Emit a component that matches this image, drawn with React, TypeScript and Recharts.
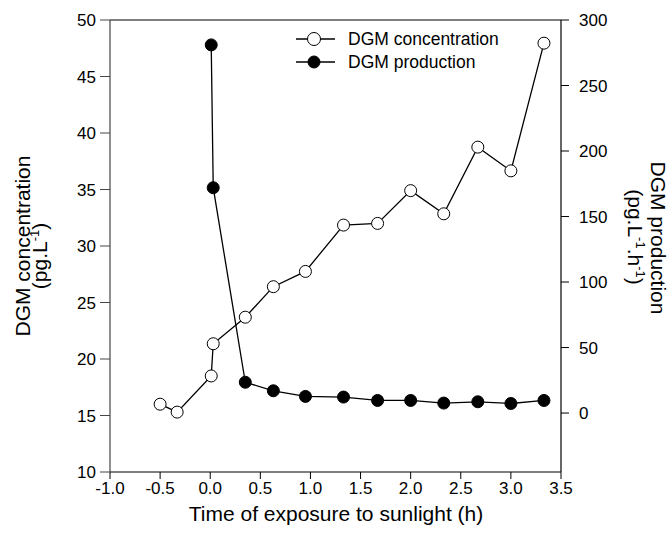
import React from "react";
import {
  LineChart,
  Line,
  XAxis,
  YAxis,
  ReferenceLine,
} from "recharts";

// Time of exposure (h) and DGM concentration (pg.L-1)
const concTime = [-0.5, -0.33, 0.01, 0.03, 0.35, 0.63, 0.95, 1.33, 1.67, 2.0, 2.33, 2.67, 3.0, 3.33];
const concValues = [16.0, 15.3, 18.5, 21.35, 23.7, 26.4, 27.75, 31.85, 32.0, 34.9, 32.85, 38.75, 36.65, 47.95];

// Time of exposure (h) and DGM production (pg.L-1.h-1)
const prodTime = [0.01, 0.03, 0.35, 0.63, 0.95, 1.33, 1.67, 2.0, 2.33, 2.67, 3.0, 3.33];
const prodValues = [281, 172, 23.5, 17, 12.7, 12.2, 9.6, 9.6, 7.6, 8.6, 7.3, 9.6];

const xTicks = [-1, -0.5, 0, 0.5, 1, 1.5, 2, 2.5, 3, 3.5];
const leftTicks = [10, 15, 20, 25, 30, 35, 40, 45, 50];
const rightTicks = [0, 50, 100, 150, 200, 250, 300];

const concData = concTime.map((t, i) => ({ t, conc: concValues[i] }));
const prodData = prodTime.map((t, i) => ({ t, prod: prodValues[i] }));

const FONT = "'Liberation Sans', Arial, Helvetica, sans-serif";
const W = 672;
const H = 535;

const tickStyle = { fill: "#000", fontSize: 17, fontFamily: FONT };

function Overlay() {
  return (
    <svg
      width={W}
      height={H}
      style={{ position: "absolute", left: 0, top: 0, pointerEvents: "none" }}
      fontFamily={FONT}
    >
      {/* x-axis title */}
      <text x={336} y={521} textAnchor="middle" fontSize={21} fill="#000">
        Time of exposure to sunlight (h)
      </text>

      {/* left axis title */}
      <text x={30} y={246} transform="rotate(-90, 30, 246)" textAnchor="middle" fontSize={21} fill="#000">
        DGM concentration
      </text>
      <text x={47} y={256} transform="rotate(-90, 47, 256)" textAnchor="middle" fontSize={21} fill="#000">
        (pg.L
        <tspan dy={-8} fontSize={13}>-1</tspan>
        <tspan dy={8}>)</tspan>
      </text>

      {/* right axis title */}
      <text x={651} y={238} transform="rotate(90, 651, 238)" textAnchor="middle" fontSize={21} fill="#000">
        DGM production
      </text>
      <text x={628} y={237} transform="rotate(90, 628, 237)" textAnchor="middle" fontSize={21} fill="#000">
        (pg.L
        <tspan dy={-8} fontSize={13}>-1</tspan>
        <tspan dy={8}>.h</tspan>
        <tspan dy={-8} fontSize={13}>-1</tspan>
        <tspan dy={8}>)</tspan>
      </text>

      {/* legend */}
      <g>
        <line x1={296} y1={39} x2={335} y2={39} stroke="#000" strokeWidth={1.3} />
        <circle cx={314} cy={39} r={6.5} fill="#fff" stroke="#000" strokeWidth={1} />
        <text x={348} y={39} dominantBaseline="central" fontSize={17.5} fill="#000">
          DGM concentration
        </text>
        <line x1={296} y1={62} x2={335} y2={62} stroke="#000" strokeWidth={1.3} />
        <circle cx={314} cy={62} r={6} fill="#000" stroke="#000" strokeWidth={1} />
        <text x={348} y={62} dominantBaseline="central" fontSize={17.5} fill="#000">
          DGM production
        </text>
      </g>
    </svg>
  );
}

export default function App() {
  return (
    <div style={{ position: "absolute", left: 0, top: 0, width: W, height: H, background: "#fff" }}>
      <LineChart
        width={W}
        height={H}
        margin={{ top: 20, right: 51, bottom: 3, left: 50 }}
      >
        <XAxis
          dataKey="t"
          type="number"
          domain={[-1, 3.5]}
          ticks={xTicks}
          allowDataOverflow
          tickFormatter={(v: number) => v.toFixed(1)}
          tick={tickStyle}
          tickSize={7}
          tickMargin={3}
          height={60}
          stroke="#000"
          axisLine={{ stroke: "#000", strokeWidth: 1.2 }}
          tickLine={{ stroke: "#000" }}
        />
        <YAxis
          yAxisId="left"
          orientation="left"
          type="number"
          domain={[10, 50]}
          ticks={leftTicks}
          allowDataOverflow
          tick={tickStyle}
          tickSize={10}
          tickMargin={4}
          width={60}
          axisLine={{ stroke: "#444", strokeWidth: 1.2 }}
          tickLine={{ stroke: "#444" }}
        />
        <YAxis
          yAxisId="right"
          orientation="right"
          type="number"
          domain={[-45, 300]}
          ticks={rightTicks}
          allowDataOverflow
          tick={tickStyle}
          tickSize={8}
          tickMargin={10}
          width={60}
          axisLine={{ stroke: "#000", strokeWidth: 1.2 }}
          tickLine={{ stroke: "#000" }}
        />
        <ReferenceLine yAxisId="left" y={50} stroke="#000" strokeWidth={1.2} />
        <Line
          yAxisId="right"
          data={prodData}
          dataKey="prod"
          type="linear"
          stroke="#000"
          strokeWidth={1.3}
          dot={{ r: 6, fill: "#000", stroke: "#000", strokeWidth: 1 }}
          activeDot={false}
          isAnimationActive={false}
        />
        <Line
          yAxisId="left"
          data={concData}
          dataKey="conc"
          type="linear"
          stroke="#000"
          strokeWidth={1.3}
          dot={{ r: 6, fill: "#fff", stroke: "#000", strokeWidth: 1 }}
          activeDot={false}
          isAnimationActive={false}
        />
      </LineChart>
      <Overlay />
    </div>
  );
}
